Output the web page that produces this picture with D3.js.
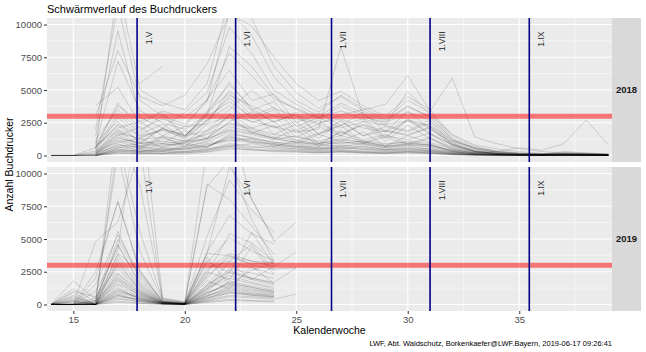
<!DOCTYPE html>
<html>
<head>
<meta charset="utf-8">
<script src="https://cdn.jsdelivr.net/npm/d3@7"></script>
<style>
  body { margin: 0; background: #fff; }
  svg { display: block; font-family: "Liberation Sans", Arial, sans-serif; }
</style>
</head>
<body>
<div id="chart"></div>
<script>

// calendar weeks of each season
const weeks2018 = [14, 15, 16, 17, 18, 19, 20, 21, 22, 23, 24, 25, 26, 27, 28, 29, 30, 31, 32, 33, 34, 35, 36, 37, 38, 39];
const weeks2019 = [14, 15, 16, 17, 18, 19, 20, 21, 22, 23, 24, 25];

// beetles per trap and week (one row = one trap)
const traps2018 = [
  [0, 0, 0, 350, 200, 150, 300, 450, 900, 700, 500, 400, 300, 350, 250, 200, 300, 250, 100, 40, 20, 10, 10, 15, 10, 5],
  [0, 0, 80, 600, 450, 300, 500, 700, 1300, 1100, 800, 600, 450, 600, 500, 350, 400, 300, 150, 60, 30, 20, 15, 20, 10, 10],
  [null, null, 0, 900, 300, 500, 400, 600, 1600, 1400, 1000, 900, 700, 1100, 800, 600, 700, 500, 250, 100, 50, 30, 20, 30, 25, 15],
  [null, null, 150, 1200, 700, 900, 650, 1100, 2200, 1800, 1300, 1000, 900, 1300, 1000, 800, 1100, 900, 300, 120, 60, 40, 30, 40, 35, 20],
  [0, 0, 0, 200, 100, 150, 100, 250, 500, 450, 300, 250, 200, 300, 200, 150, 200, 150, 60, 20, 10, 10, 5, 10, 5, 5],
  [null, null, 400, 1800, 600, 1400, 700, 1900, 2900, 1700, 2300, 900, 1600, 1100, 1800, 700, 1500, 1000, 500, 200, 90, 50, 40, 60, 50, 30],
  [null, null, 200, 700, 900, 1100, 800, 1300, 1900, 1600, 1200, 1500, 1000, 900, 1100, 700, 900, 800, 350, 150, 70, 40, 25, 35, 30, 20],
  [0, 0, 50, 400, 250, 350, 600, 800, 1100, 1300, 900, 700, 600, 500, 700, 450, 500, 400, 180, 80, 40, 25, 15, 20, 15, 10],
  [null, null, 1000, 2600, 900, 2100, 1200, 2700, 3800, 2500, 3100, 1400, 2200, 1500, 2400, 1100, 2300, 1300, 600, 250, 120, 60, 50, 80, 60, 40],
  [null, null, 300, 1500, 2200, 900, 1900, 1300, 2600, 3300, 1600, 2400, 900, 1800, 1200, 1600, 900, 1400, 450, 180, 80, 50, 30, 40, 30, 20],
  [0, 0, 100, 1100, 500, 800, 900, 600, 1500, 1000, 700, 1100, 800, 700, 900, 600, 800, 650, 280, 120, 60, 30, 20, 25, 20, 15],
  [null, null, 0, 300, 400, 200, 300, 500, 700, 900, 600, 500, 400, 450, 350, 300, 350, 300, 120, 50, 25, 15, 10, 15, 10, 10],
  [null, null, 500, 3200, 1600, 2400, 1300, 3300, 4800, 3000, 3700, 1900, 2700, 1500, 2600, 1300, 2800, 1700, 800, 300, 150, 80, 60, 100, 80, 50],
  [null, null, 250, 2000, 700, 1500, 1100, 1300, 3200, 2100, 2600, 1100, 1700, 2300, 1000, 1500, 1200, 1700, 550, 220, 100, 60, 40, 50, 40, 25],
  [0, 0, 0, 500, 300, 400, 250, 400, 800, 600, 700, 500, 350, 400, 300, 250, 300, 200, 90, 40, 20, 10, 10, 10, 10, 5],
  [null, null, 600, 4000, 2000, 2800, 2200, 4300, 6500, 4200, 4700, 2500, 3200, 2300, 3300, 1800, 3400, 2000, 1000, 400, 180, 100, 80, 120, 90, 60],
  [null, null, 900, 7200, 3400, 2500, 2000, 3100, 8300, 6800, 4500, 3500, 2800, 3800, 3000, 2500, 3300, 2700, 1100, 500, 220, 120, 90, 140, 110, 70],
  [null, null, 2000, 11500, 4200, 3000, 2400, 4100, 11000, 9200, 6000, 4200, 3300, 4600, 3600, 2800, 4200, 3300, 1300, 600, 280, 150, 110, 300, 200, 90],
  [null, null, 1500, 9500, 2900, 2100, 3300, 4800, 9800, 7800, 5000, 3900, 3000, 4000, 3200, 2600, 3700, 3000, 1200, 500, 240, 130, 100, 180, 130, 80],
  [null, null, 3800, 5200, 2400, 3300, 1500, 3100, 5600, 3500, 4100, 2200, 2900, 2100, 2600, 2300, 1900, 2700, 900, 350, 160, 90, 70, 110, 80, 50],
  [0, 0, 350, 1600, 500, 1300, 900, 2400, 3000, 1800, 1300, 2000, 700, 1900, 900, 1400, 800, 1300, 420, 180, 90, 50, 30, 45, 35, 25],
  [null, null, 700, 2300, 1000, 2100, 1500, 3000, 4100, 2900, 2100, 2600, 1300, 2600, 1500, 1900, 1600, 2100, 700, 280, 130, 70, 50, 70, 55, 35],
  [null, null, 0, 150, 200, 100, 200, 300, 600, 400, 350, 300, 200, 250, 180, 150, 200, 150, 60, 30, 15, 10, 5, 10, 5, 5],
  [null, null, 100, 800, 600, 400, 700, 1000, 1800, 1300, 1000, 800, 600, 800, 650, 500, 600, 500, 220, 90, 45, 25, 20, 25, 20, 10],
  [0, 0, 200, 1300, 1000, 900, 1100, 1600, 2400, 2000, 1400, 1200, 900, 1200, 1000, 700, 900, 800, 320, 140, 70, 40, 30, 35, 25, 20],
  [null, null, 1200, 3500, 1800, 3100, 1400, 3400, 5400, 3600, 2500, 3300, 1600, 2300, 2800, 1400, 2700, 1600, 850, 320, 150, 80, 60, 90, 70, 45],
  [null, null, 400, 2900, 1400, 2000, 1600, 2700, 4400, 2800, 3500, 1700, 2400, 1700, 2300, 1900, 1500, 2200, 750, 300, 140, 75, 55, 80, 60, 40],
  [null, null, 0, 600, 700, 500, 500, 900, 1200, 1000, 900, 700, 500, 700, 550, 450, 550, 400, 200, 80, 40, 20, 15, 20, 15, 10],
  [null, null, 300, 1000, 1300, 600, 1000, 1200, 2000, 1700, 1300, 1000, 800, 1000, 900, 700, 800, 700, 300, 120, 60, 35, 25, 30, 20, 15],
  [0, 0, 0, 250, 150, 300, 200, 350, 700, 500, 400, 350, 250, 300, 250, 200, 250, 200, 80, 30, 15, 10, 5, 10, 5, 5],
  [null, null, 800, 2100, 2600, 1500, 2200, 2400, 5000, 3400, 2600, 3100, 1600, 2700, 1500, 2200, 1800, 2500, 800, 300, 140, 80, 60, 80, 60, 40],
  [null, null, 700, 1900, 1200, 1400, 1100, 1700, 3100, 2600, 2200, 1800, 2000, 8300, 3000, 2400, 2600, 2200, 900, 350, 150, 80, 50, 70, 50, 30],
  [null, null, 200, 1400, 900, 700, 1000, 1300, 2500, 2100, 1600, 1400, 1100, 1500, 1100, 900, 1000, 800, 400, 200, 300, 600, 400, 900, 2700, 800],
  [null, null, 500, 2400, 1500, 1900, 1400, 2600, 4600, 3800, 3000, 2800, 2400, 3100, 3500, 3900, 6100, 3400, 5900, 1400, 900, 500, 300, 200, 150, 100],
  [null, null, null, null, 5500, 6800, null, null, null, null, null, null, null, null, null, null, null, null, null, null, null, null, null, null, null, null],
  [null, null, 3000, 8000, 4500, 3800, 4600, 7000, 10800, 9900, 7500, 5500, 4200, 4900, 3800, 3000, 4500, 3500, 1500, 700, 300, 180, 120, 200, 160, 100],
  [null, null, 500, 13000, 5000, 4000, 3500, 5500, 12000, 10500, 6800, 4800, 3600, 4500, 3400, 2700, 3800, 2900, 1200, 550, 250, 140, 100, 160, 120, 80],
  [0, 0, 600, 3800, 2600, 3400, 2900, 4200, 7800, 6100, 4300, 3600, 2900, 3400, 2800, 2300, 4900, 3100, 1600, 800, 500, 300, 150, 120, 90, 60],
  [null, null, 100, 1700, 1300, 2000, 1500, 1900, 3500, 5000, 3600, 3000, 2500, 2800, 2100, 1800, 2700, 2300, 1100, 600, 350, 200, 100, 80, 60, 40],
  [null, null, 0, 450, 300, 600, 500, 700, 1400, 1200, 800, 650, 500, 600, 450, 400, 450, 350, 150, 60, 30, 20, 10, 15, 10, 5]
];

const traps2019 = [
  [0, 0, 0, 800, 300, 50, 0, 400, 1200, 900, 700, null],
  [0, 200, 0, 1500, 500, 80, 20, 700, 1800, 1400, 1100, null],
  [0, 0, 50, 2300, 900, 100, 30, 1100, 2600, 2000, 1600, null],
  [0, 500, 100, 3100, 1200, 150, 50, 1500, 3300, 2800, 2300, null],
  [0, 0, 0, 400, 200, 30, 0, 300, 700, 600, 500, null],
  [0, 1200, 200, 5600, 1800, 200, 60, 2500, 1900, 4400, 2300, null],
  [0, 0, 0, 1000, 600, 60, 10, 900, 1500, 1200, 900, null],
  [0, 300, 0, 1900, 700, 120, 40, 1300, 2200, 1700, 1300, null],
  [0, 0, 2000, 7900, 2400, 250, 80, 3200, 5100, 4100, 3300, null],
  [0, 1800, 400, 4500, 1500, 180, 50, 2000, 3800, 3000, 2700, 2800],
  [0, 0, 0, 600, 400, 40, 0, 500, 1000, 700, 600, null],
  [0, 100, 0, 2700, 1000, 130, 30, 1800, 1200, 2900, 1600, null],
  [0, 0, 500, 11500, 4000, 300, 100, 4000, 6800, 5400, 4600, null],
  [0, 0, 0, 1300, 350, 90, 20, 600, 1300, 1000, 800, null],
  [0, 600, 0, 3500, 1300, 160, 40, 2200, 3600, 3100, 3200, null],
  [0, 0, 4800, 6300, 12000, 350, 120, 5200, 9500, 7200, 5500, null],
  [0, 0, 0, 250, 100, 20, 0, 200, 400, 300, 250, null],
  [0, 0, 300, 2000, 800, 110, 30, 1000, 2400, 1900, 1500, null],
  [0, 900, 0, 5000, 2000, 220, 70, 2800, 3300, 4600, 2600, null],
  [0, 0, 100, 1600, 700, 100, 20, 800, 1700, 1300, 1000, null],
  [0, 0, 0, 12500, 5500, 400, 150, 3900, 10500, 8100, 4800, 6300],
  [0, 0, 1000, 4200, 16000, 500, 200, 9000, 11000, 6500, 3300, null],
  [0, 0, 0, 700, 250, 50, 10, 350, 900, 700, 550, null],
  [0, 300, 0, 2400, 900, 130, 40, 1400, 2700, 2400, 2000, null],
  [0, 0, 200, 3800, 1400, 170, 60, 2600, 3900, 3300, 2900, 4000],
  [0, 0, 0, 900, 500, 70, 10, 700, 1100, 800, 700, null],
  [0, 0, 0, 150, 80, 10, 0, 150, 300, 250, 200, null],
  [0, 1000, 600, 2900, 1100, 140, 30, 3600, 1500, 2600, 3200, null],
  [0, 0, 0, 1100, 400, 80, 20, 600, 1400, 1100, 900, null],
  [0, 0, 2500, 7800, 2600, 260, 90, 9200, 8000, 6000, 3800, null],
  [0, 0, 0, 500, 200, 40, 0, 250, 600, 500, 400, 800],
  [0, 400, 0, 1800, 600, 100, 30, 1200, 2000, 1600, 1200, null],
  [0, 0, 0, 3300, 1000, 160, 50, 1200, 3200, 1900, 2900, null],
  [0, 0, 100, 14000, 9000, 450, 150, 12000, 14000, 8000, 5000, null],
  [0, 0, 0, 1200, 450, 90, 30, 900, 1600, 1300, 1000, null],
  [0, 200, 0, 2100, 800, 110, 40, 1500, 2500, 2000, 1700, 2800],
  [0, 0, 300, 4600, 1600, 200, 60, 3300, 2400, 5500, 3000, null],
  [0, 0, 0, 700, 300, 50, 10, 500, 900, 800, 600, null],
  [0, 0, 1500, 5300, 2200, 240, 70, 3900, 3700, 3300, 3200, null],
  [0, 700, 0, 3900, 2500, 190, 50, 2300, 5400, 4700, 3300, null]
];

const years = ["2018", "2019"];
const monthLabels = ["1.V", "1.VI", "1.VII", "1.VIII", "1.IX"];
const monthWeeks = [17.86, 22.28, 26.58, 31.0, 35.45];
const threshold = 3000;
const yTicks = [0, 2500, 5000, 7500, 10000];
const yMinor = [1250, 3750, 6250, 8750];
const xTicks = [15, 20, 25, 30, 35];
const xMinor = [17.5, 22.5, 27.5, 32.5, 37.5];

let width = 646,
  height = 352,
  margin = ({ top: 18, right: 34, bottom: 41, left: 47 }),
  gap = 5,
  stripW = 29;

let panelH = (height - margin.top - margin.bottom - gap) / 2;

const svg = d3.select("#chart")
  .append("svg")
  .attr("width", width)
  .attr("height", height);

let x = d3.scaleLinear()
  .domain([13.82, 39.16])
  .range([margin.left, width - margin.right]);

let y = d3.scaleLinear()
  .domain([-500, 10500])
  .range([panelH, 0]);

let line = d3.line()
  .defined(d => d[1] !== null)
  .x(d => x(d[0]))
  .y(d => y(d[1]));

let panels = [
  { year: years[0], weeks: weeks2018, traps: traps2018 },
  { year: years[1], weeks: weeks2019, traps: traps2019 }
];

panels.forEach((p, i) => {
  let top = margin.top + i * (panelH + gap);
  let g = svg.append("g").attr("transform", `translate(0,${top})`);

  g.append("rect")
    .attr("x", margin.left).attr("y", 0)
    .attr("width", x.range()[1] - margin.left).attr("height", panelH)
    .attr("fill", "#EBEBEB");

  // grid, minor first
  g.selectAll(".ymin").data(yMinor).join("line")
    .attr("x1", margin.left).attr("x2", x.range()[1])
    .attr("y1", d => y(d)).attr("y2", d => y(d))
    .attr("stroke", "#fff").attr("stroke-width", 0.5);
  g.selectAll(".xmin").data(xMinor).join("line")
    .attr("x1", d => x(d)).attr("x2", d => x(d))
    .attr("y1", 0).attr("y2", panelH)
    .attr("stroke", "#fff").attr("stroke-width", 0.5);
  g.selectAll(".ymaj").data(yTicks).join("line")
    .attr("x1", margin.left).attr("x2", x.range()[1])
    .attr("y1", d => y(d)).attr("y2", d => y(d))
    .attr("stroke", "#fff").attr("stroke-width", 1.1);
  g.selectAll(".xmaj").data(xTicks).join("line")
    .attr("x1", d => x(d)).attr("x2", d => x(d))
    .attr("y1", 0).attr("y2", panelH)
    .attr("stroke", "#fff").attr("stroke-width", 1.1);

  g.append("clipPath").attr("id", "clip" + i)
    .append("rect")
    .attr("x", margin.left).attr("y", 0)
    .attr("width", x.range()[1] - margin.left).attr("height", panelH);

  let plot = g.append("g").attr("clip-path", `url(#clip${i})`);

  // one thin line per trap
  plot.selectAll(".trap")
    .data(p.traps)
    .join("path")
    .attr("class", "trap")
    .attr("fill", "none")
    .attr("stroke", "#000")
    .attr("stroke-opacity", 0.24)
    .attr("stroke-width", 0.6)
    .attr("d", row => line(row.map((v, j) => [p.weeks[j], v])));

  // threshold band
  plot.append("line")
    .attr("x1", margin.left).attr("x2", x.range()[1])
    .attr("y1", y(threshold)).attr("y2", y(threshold))
    .attr("stroke", "red").attr("stroke-opacity", 0.5)
    .attr("stroke-width", 5);

  // first of each month
  plot.selectAll(".month")
    .data(monthWeeks)
    .join("line")
    .attr("x1", d => x(d)).attr("x2", d => x(d))
    .attr("y1", 0).attr("y2", panelH)
    .attr("stroke", "#00008B").attr("stroke-width", 1.6);

  g.selectAll(".mlabel")
    .data(monthWeeks)
    .join("text")
    .attr("transform", d => `translate(${x(d) + 11.5},${13.5}) rotate(-90)`)
    .attr("text-anchor", "end")
    .attr("dy", "0.35em")
    .attr("font-size", 8.5)
    .attr("fill", "#1A1A1A")
    .text((d, k) => monthLabels[k]);

  // y axis
  let ya = g.append("g")
    .attr("transform", `translate(${margin.left},0)`)
    .call(d3.axisLeft(y).tickValues(yTicks).tickFormat(d3.format("d")).tickSize(3).tickPadding(2));
  ya.select(".domain").remove();
  ya.selectAll(".tick line").attr("stroke", "#333");
  ya.selectAll(".tick text").attr("fill", "#4D4D4D").attr("font-size", 9.5)
    .attr("font-family", "Liberation Sans, Arial, sans-serif");

  // facet strip
  g.append("rect")
    .attr("x", x.range()[1]).attr("y", 0)
    .attr("width", stripW).attr("height", panelH)
    .attr("fill", "#D9D9D9");
  g.append("text")
    .attr("x", x.range()[1] + stripW / 2)
    .attr("y", panelH / 2)
    .attr("dy", "0.35em")
    .attr("text-anchor", "middle")
    .attr("font-size", 9.5)
    .attr("font-weight", "bold")
    .attr("fill", "#1A1A1A")
    .text(p.year);
});

// x axis under the lower panel
let xa = svg.append("g")
  .attr("transform", `translate(0,${height - margin.bottom})`)
  .call(d3.axisBottom(x).tickValues(xTicks).tickSize(3).tickPadding(2));
xa.select(".domain").remove();
xa.selectAll(".tick line").attr("stroke", "#333");
xa.selectAll(".tick text").attr("fill", "#4D4D4D").attr("font-size", 9.5)
  .attr("font-family", "Liberation Sans, Arial, sans-serif");

svg.append("text")
  .attr("x", margin.left)
  .attr("y", 13)
  .attr("font-size", 11)
  .attr("fill", "#000")
  .text("Schwärmverlauf des Buchdruckers");

svg.append("text")
  .attr("x", (margin.left + x.range()[1]) / 2)
  .attr("y", 334)
  .attr("text-anchor", "middle")
  .attr("font-size", 10.5)
  .attr("fill", "#000")
  .text("Kalenderwoche");

svg.append("text")
  .attr("transform", `translate(13,${margin.top + panelH + gap / 2}) rotate(-90)`)
  .attr("text-anchor", "middle")
  .attr("font-size", 10.5)
  .attr("fill", "#000")
  .text("Anzahl Buchdrucker");

svg.append("text")
  .attr("x", x.range()[1])
  .attr("y", 346)
  .attr("text-anchor", "end")
  .attr("font-size", 7.5)
  .attr("fill", "#000")
  .text("LWF, Abt. Waldschutz, Borkenkaefer@LWF.Bayern, 2019-06-17 09:26:41");

</script>
</body>
</html>
